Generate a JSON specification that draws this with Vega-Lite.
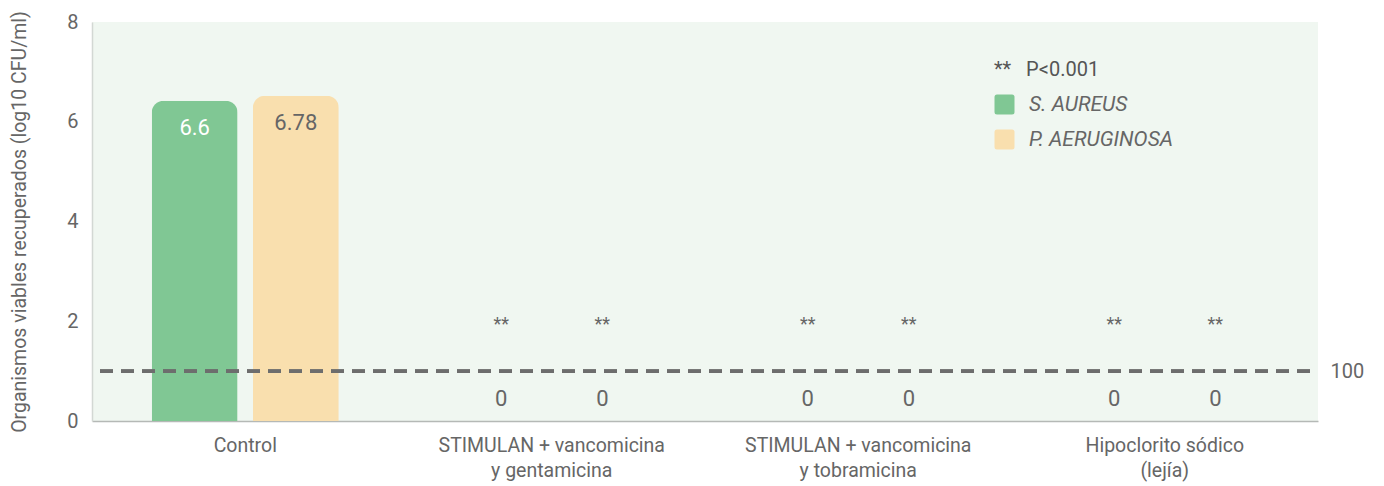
{
  "$schema": "https://vega.github.io/schema/vega-lite/v6.json",
  "width": 1226,
  "height": 399,
  "autosize": {"type": "none"},
  "padding": {"left": 92, "top": 22, "right": 66, "bottom": 65},
  "background": "white",
  "config": {
    "font": "Roboto",
    "view": {"fill": "#f0f7f1", "stroke": null},
    "axis": {"labelColor": "#666666", "titleColor": "#666666", "grid": false, "ticks": false}
  },
  "data": {
    "values": [
      {"group": "Control", "species": "S. AUREUS", "value": 6.42, "label": "6.6", "sig": ""},
      {"group": "Control", "species": "P. AERUGINOSA", "value": 6.52, "label": "6.78", "sig": ""},
      {"group": "STIMULAN + vancomicina|y gentamicina", "species": "S. AUREUS", "value": 0, "label": "0", "sig": "**"},
      {"group": "STIMULAN + vancomicina|y gentamicina", "species": "P. AERUGINOSA", "value": 0, "label": "0", "sig": "**"},
      {"group": "STIMULAN + vancomicina|y tobramicina", "species": "S. AUREUS", "value": 0, "label": "0", "sig": "**"},
      {"group": "STIMULAN + vancomicina|y tobramicina", "species": "P. AERUGINOSA", "value": 0, "label": "0", "sig": "**"},
      {"group": "Hipoclorito sódico|(lejía)", "species": "S. AUREUS", "value": 0, "label": "0", "sig": "**"},
      {"group": "Hipoclorito sódico|(lejía)", "species": "P. AERUGINOSA", "value": 0, "label": "0", "sig": "**"}
    ]
  },
  "layer": [
    {
      "transform": [{"filter": "datum.value > 0"}],
      "mark": {"type": "bar", "cornerRadiusTopLeft": 12, "cornerRadiusTopRight": 12},
      "encoding": {
        "x": {
          "field": "group",
          "type": "nominal",
          "sort": null,
          "scale": {"domain": ["Control", "STIMULAN + vancomicina|y gentamicina", "STIMULAN + vancomicina|y tobramicina", "Hipoclorito sódico|(lejía)"], "paddingInner": 0, "paddingOuter": 0},
          "axis": {
            "title": null,
            "labelAngle": 0,
            "labelFontSize": 19.5,
            "labelPadding": 15,
            "labelLineHeight": 25,
            "labelLimit": 0,
            "labelExpr": "split(datum.label, '|')",
            "domainColor": "#b5b9b6",
            "domainWidth": 1.5
          }
        },
        "xOffset": {
          "field": "species",
          "type": "nominal",
          "scale": {"domain": ["S. AUREUS", "P. AERUGINOSA"], "paddingInner": 0.15, "paddingOuter": 0.59}
        },
        "y": {
          "field": "value",
          "type": "quantitative",
          "scale": {"domain": [0, 8], "nice": false},
          "axis": {
            "title": "Organismos viables recuperados (log10 CFU/ml)",
            "titleFontSize": 19.5,
            "titleFontWeight": "normal",
            "titlePadding": 37,
            "values": [0, 2, 4, 6, 8],
            "labelFontSize": 20,
            "labelPadding": 14,
            "domainColor": "#d3d8d4",
            "domainWidth": 1.5
          }
        },
        "color": {
          "field": "species",
          "type": "nominal",
          "scale": {"domain": ["S. AUREUS", "P. AERUGINOSA"], "range": ["#80c794", "#f9dfae"]},
          "legend": {
            "orient": "none",
            "legendX": 902,
            "legendY": 38,
            "title": "**\u00a0\u00a0\u00a0P<0.001",
            "titleFontSize": 20,
            "titleFontWeight": "normal",
            "titleColor": "#555555",
            "titlePadding": 14,
            "labelFontSize": 21,
            "labelFontStyle": "italic",
            "labelColor": "#666666",
            "labelOffset": 14,
            "rowPadding": 13,
            "symbolSize": 400,
            "symbolType": "M-0.75,-1 L0.75,-1 Q1,-1 1,-0.75 L1,0.75 Q1,1 0.75,1 L-0.75,1 Q-1,1 -1,0.75 L-1,-0.75 Q-1,-1 -0.75,-1 Z",
            "symbolStrokeWidth": 0,
            "symbolOpacity": 1
          }
        }
      }
    },
    {
      "transform": [{"filter": "datum.value > 0"}],
      "mark": {"type": "text", "baseline": "top", "dy": 17, "fontSize": 22},
      "encoding": {
        "x": {"field": "group", "type": "nominal", "sort": null},
        "xOffset": {"field": "species", "type": "nominal"},
        "y": {"field": "value", "type": "quantitative", "axis": null},
        "text": {"field": "label"},
        "color": {
          "condition": {"test": "datum.species == 'S. AUREUS'", "value": "white"},
          "value": "#666666"
        }
      }
    },
    {
      "transform": [{"filter": "datum.value == 0"}],
      "mark": {"type": "text", "baseline": "alphabetic", "dy": -15, "fontSize": 22, "color": "#666666"},
      "encoding": {
        "x": {"field": "group", "type": "nominal", "sort": null},
        "xOffset": {"field": "species", "type": "nominal"},
        "y": {"field": "value", "type": "quantitative", "axis": null},
        "text": {"field": "label"}
      }
    },
    {
      "transform": [{"filter": "datum.sig != ''"}],
      "mark": {"type": "text", "baseline": "middle", "dy": 4, "fontSize": 18, "color": "#666666"},
      "encoding": {
        "x": {"field": "group", "type": "nominal", "sort": null},
        "xOffset": {"field": "species", "type": "nominal"},
        "y": {"datum": 2, "type": "quantitative", "axis": null},
        "text": {"field": "sig"}
      }
    },
    {
      "mark": {"type": "rule", "stroke": "#6d6d6d", "strokeWidth": 3, "strokeDash": [13, 8], "strokeDashOffset": -8},
      "encoding": {
        "y": {
          "datum": 1,
          "type": "quantitative",
          "axis": {
            "orient": "right",
            "values": [1],
            "labelExpr": "'100'",
            "labelFontSize": 20,
            "labelPadding": 12,
            "domain": false,
            "title": null
          }
        }
      }
    }
  ],
  "resolve": {"axis": {"y": "independent"}}
}
